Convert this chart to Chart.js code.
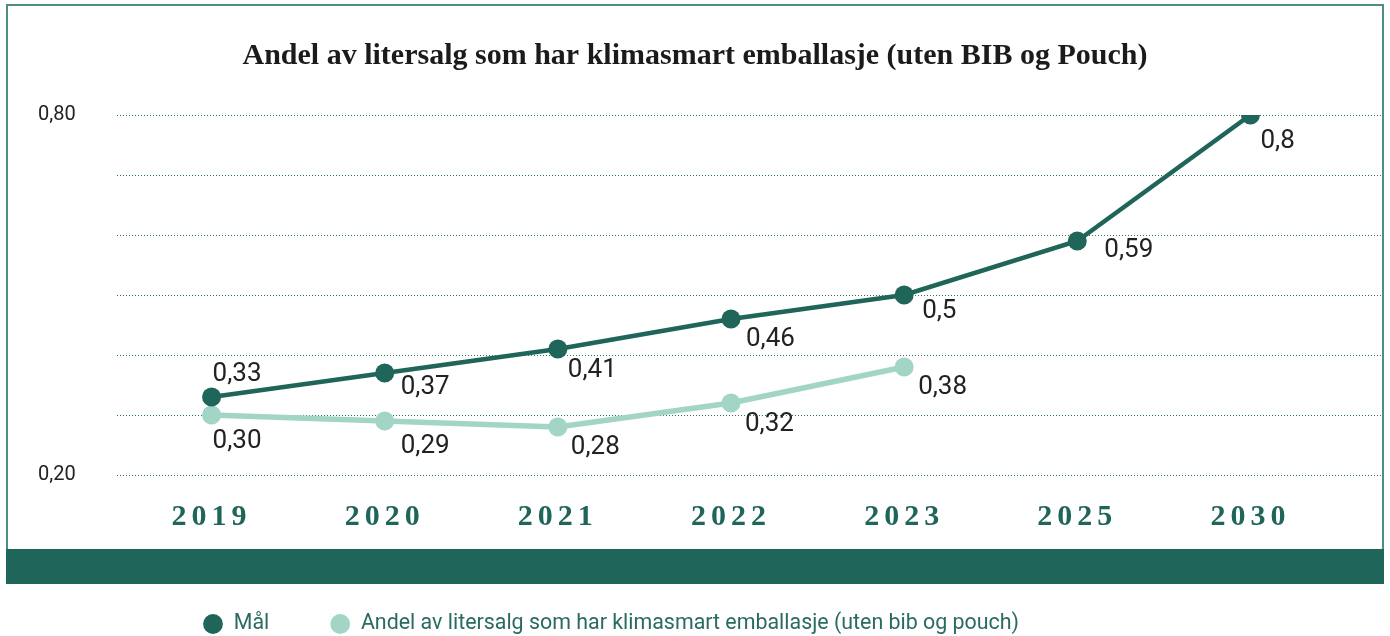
<!DOCTYPE html>
<html><head><meta charset="utf-8">
<script src="https://cdn.jsdelivr.net/npm/chart.js@4.4.1/dist/chart.umd.min.js"></script>
<style>html,body{margin:0;padding:0;background:#fff;overflow:hidden}canvas{display:block}</style>
</head><body>
<canvas id="c" width="1390" height="636"></canvas>
<script>
const chartTitle = 'Andel av litersalg som har klimasmart emballasje (uten BIB og Pouch)';
const categories = ['2019', '2020', '2021', '2022', '2023', '2025', '2030'];
const goalName = 'Mål';
const goalValues = [0.33, 0.37, 0.41, 0.46, 0.5, 0.59, 0.8];
const actualName = 'Andel av litersalg som har klimasmart emballasje (uten bib og pouch)';
const actualValues = [0.30, 0.29, 0.28, 0.32, 0.38, null, null];
const yMin = 0.2, yMax = 0.8, yStep = 0.1;
const yLabelledTicks = [0.2, 0.8];

const DARK = '#1f6559';
const LIGHT = '#a2d5c6';
const BORDER = '#4f8d82';
const TEXT = '#222222';

const fmtGoal = v => String(v).replace('.', ',');
const fmtActual = v => v.toFixed(2).replace('.', ',');

// label placement relative to its point (left edge, vertical centre)
const labelOffsets = [
  [[1, -23], [16, 14], [10, 21], [15, 20], [18, 16], [27, 9], [10, 26]],
  [[1, 26], [16, 25], [13, 20], [14, 21], [14, 20]]
];

const framePlugin = {
  id: 'frame',
  beforeLayout(chart) {
    const lg = chart.legend;
    if (lg && !lg._patchedFit) {
      const f = lg.fit;
      lg.fit = function () { f.call(this); this.height = 86; };
      lg._patchedFit = true;
    }
  },
  afterLayout(chart) {
    const lg = chart.legend;
    if (lg) { const w = lg.right - lg.left; lg.left = 142; lg.right = 142 + w; lg.top = 552.3; }
    const tb = chart.titleBlock;
    if (tb) { tb.left = 0; tb.right = chart.width; }
  },
  beforeDraw(chart) {
    const ctx = chart.ctx;
    ctx.save();
    ctx.fillStyle = '#ffffff';
    ctx.fillRect(0, 0, chart.width, chart.height);
    ctx.strokeStyle = BORDER;
    ctx.lineWidth = 2;
    ctx.strokeRect(7, 5, 1376, 546);
    ctx.fillStyle = DARK;
    ctx.fillRect(6, 549, 1378, 35);
    ctx.restore();
    const xs = chart.scales.x;
    if (xs && !xs._patchedLabels) {
      const orig = xs.drawLabels;
      xs.drawLabels = function (ca) {
        this.ctx.save();
        this.ctx.letterSpacing = '5px';
        orig.call(this, ca);
        this.ctx.restore();
      };
      xs._patchedLabels = true;
    }
  },
  beforeDatasetsDraw(chart) {
    const ctx = chart.ctx, ys = chart.scales.y;
    ctx.save();
    ctx.strokeStyle = '#2f7568';
    ctx.lineWidth = 1;
    ctx.setLineDash([1, 2]);
    ys.ticks.forEach(t => {
      const y = Math.round(ys.getPixelForValue(t.value)) + 0.5;
      ctx.beginPath();
      ctx.moveTo(117, y);
      ctx.lineTo(1382, y);
      ctx.stroke();
    });
    ctx.restore();
  },
  afterDatasetsDraw(chart) {
    const ctx = chart.ctx;
    ctx.save();
    ctx.font = '26px Roboto';
    ctx.fillStyle = TEXT;
    ctx.textAlign = 'left';
    ctx.textBaseline = 'middle';
    chart.data.datasets.forEach((ds, di) => {
      const meta = chart.getDatasetMeta(di);
      meta.data.forEach((pt, i) => {
        const v = ds.data[i];
        if (v === null || v === undefined) return;
        const off = labelOffsets[di][i] || [14, 20];
        const txt = di === 0 ? fmtGoal(v) : fmtActual(v);
        ctx.fillText(txt, pt.x + off[0], pt.y + off[1]);
      });
    });
    ctx.restore();
  }
};

new Chart(document.getElementById('c'), {
  type: 'line',
  data: {
    labels: categories,
    datasets: [
      {
        label: goalName,
        data: goalValues,
        borderColor: DARK,
        backgroundColor: DARK,
        pointBackgroundColor: DARK,
        pointBorderWidth: 0,
        pointRadius: 9.5,
        borderWidth: 4.5,
        tension: 0
      },
      {
        label: actualName,
        data: actualValues,
        borderColor: LIGHT,
        backgroundColor: LIGHT,
        pointBackgroundColor: LIGHT,
        pointBorderWidth: 0,
        pointRadius: 9.5,
        borderWidth: 5.5,
        tension: 0
      }
    ]
  },
  options: {
    responsive: false,
    devicePixelRatio: 1,
    animation: false,
    layout: { padding: { left: 38, right: 53, top: 0, bottom: 0 } },
    plugins: {
      title: {
        display: true,
        text: chartTitle,
        color: '#1b1b1b',
        font: { family: 'Liberation Serif', size: 30, weight: 'bold' },
        padding: { top: 38, bottom: 41 }
      },
      legend: {
        display: true,
        position: 'bottom',
        align: 'start',
        labels: {
          usePointStyle: true,
          pointStyle: 'circle',
          boxWidth: 20,
          boxHeight: 14,
          padding: 61,
          color: '#2a6b60',
          font: { family: 'Roboto', size: 21.4 }
        }
      },
      tooltip: { enabled: false }
    },
    scales: {
      x: {
        type: 'category',
        offset: true,
        grid: { display: false },
        border: { display: false },
        ticks: {
          color: DARK,
          padding: 16,
          font: { family: 'Liberation Serif', size: 30, weight: 'bold' }
        },
        afterFit(s) { s.height = 75; }
      },
      y: {
        min: yMin,
        max: yMax,
        grid: { display: false },
        border: { display: false },
        ticks: {
          stepSize: yStep,
          crossAlign: 'far',
          color: TEXT,
          font: { family: 'Roboto', size: 20 },
          callback(v) {
            return yLabelledTicks.some(t => Math.abs(t - v) < 1e-6) ? v.toFixed(2).replace('.', ',') : '';
          }
        },
        afterFit(s) { s.width = 87; }
      }
    }
  },
  plugins: [framePlugin]
});
</script>
</body></html>
